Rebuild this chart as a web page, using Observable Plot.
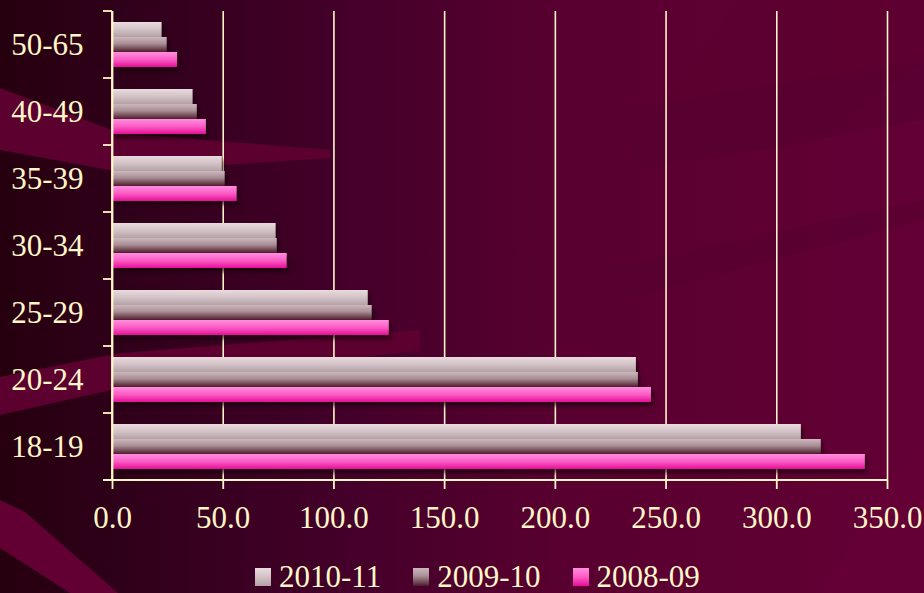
<!DOCTYPE html>
<html><head><meta charset="utf-8">
<script src="https://cdn.jsdelivr.net/npm/d3@7"></script>
<script src="https://cdn.jsdelivr.net/npm/@observablehq/plot@0.6"></script>
<style>
html,body{margin:0;padding:0;}
body{width:924px;height:593px;overflow:hidden;position:relative;font-family:"Liberation Serif","Times New Roman",serif;
  background-color:#40001f;}
#chart{position:absolute;left:0;top:0;}
#defs{position:absolute;width:0;height:0;overflow:hidden;}
g[aria-label="bar"]{filter:drop-shadow(2px 4px 2px rgba(20,0,8,0.65));}
#legend{position:absolute;left:255px;top:562px;display:flex;align-items:center;color:#fff8c8;font-size:31px;line-height:30px;}
.item{display:flex;align-items:center;margin-right:32px;}
.sw{width:16px;height:18px;margin-right:8px;}
</style></head>
<body>
<svg id="defs" width="0" height="0">
  <defs>
    <linearGradient id="g0" x1="0" y1="0" x2="0" y2="1">
      <stop offset="0" stop-color="#eadbde"/><stop offset="0.5" stop-color="#d2c2c6"/><stop offset="1" stop-color="#b3a1a6"/>
    </linearGradient>
    <linearGradient id="g1" x1="0" y1="0" x2="0" y2="1">
      <stop offset="0" stop-color="#cdb7bc"/><stop offset="0.45" stop-color="#a88e95"/><stop offset="1" stop-color="#4e1c2c"/>
    </linearGradient>
    <linearGradient id="g2" x1="0" y1="0" x2="0" y2="1">
      <stop offset="0" stop-color="#ff8ee0"/><stop offset="0.5" stop-color="#fb5cc4"/><stop offset="1" stop-color="#e60e98"/>
    </linearGradient>
  </defs>
</svg>
<div id="chart"></div>
<div id="legend"></div>
<script>
// ---- data ----
const ageGroups = ["50-65", "40-49", "35-39", "30-34", "25-29", "20-24", "18-19"];
const seriesNames = ["2010-11", "2009-10", "2008-09"];
const values2010_11 = [22.4, 36.4, 49.6, 73.9, 115.5, 236.6, 311.1];
const values2009_10 = [24.7, 38.3, 50.9, 74.4, 117.3, 237.5, 320.1];
const values2008_09 = [29.4, 42.4, 56.3, 78.9, 125.0, 243.4, 340.0];
const xTicks = [0, 50, 100, 150, 200, 250, 300, 350];

const seriesValues = [values2010_11, values2009_10, values2008_09];
const gradientIds = ["url(#g0)", "url(#g1)", "url(#g2)"];
const cssGradients = [
  "linear-gradient(#eadbde,#d2c2c6,#b3a1a6)",
  "linear-gradient(#cdb7bc,#a88e95 45%,#4e1c2c)",
  "linear-gradient(#ff8ee0,#fb5cc4,#e60e98)"
];
const rows = ageGroups.flatMap((age, i) =>
  seriesNames.map((s, j) => ({age, series: s, value: seriesValues[j][i]})));

const cream = "#fff6c8";

// ---- background decoration ----
const bgSvg = `<svg xmlns='http://www.w3.org/2000/svg' width='924' height='593'>
<polygon points='0,88 120,133 330,150 330,158 120,172 0,150' fill='#5c002f'/>
<polygon points='0,377 120,353 420,330 420,350 120,388 0,415' fill='#5c002f'/>
<polygon points='0,500 25,512 118,593 70,593 0,548' fill='#620033'/>
<polygon points='740,0 924,0 924,60 820,140 700,160 650,120' fill='#5a002f' opacity='0.6'/>
<polygon points='620,110 924,60 924,120 640,170' fill='#570030' opacity='0.6'/>
<polygon points='600,270 924,200 924,220 620,300' fill='#560030' opacity='0.5'/>
<polygon points='820,593 900,470 924,440 924,593' fill='#660038' opacity='0.7'/>
</svg>`;
document.body.style.background =
  `url("data:image/svg+xml,${encodeURIComponent(bgSvg)}") no-repeat, ` +
  `linear-gradient(90deg, #26000f 0%, #30001a 14%, #44002a 38%, #58002f 60%, #630035 100%)`;

// ---- chart ----
const plot = Plot.plot({
  width: 924,
  height: 545,
  marginTop: 9,
  marginBottom: 64,
  marginLeft: 112,
  marginRight: 37,
  style: {background: "transparent", color: cream, fontFamily: "'Liberation Serif','Times New Roman',serif", fontSize: "31px", overflow: "visible"},
  x: {domain: [0, 350]},
  y: {domain: seriesNames, paddingInner: 0, paddingOuter: 0.73, axis: null},
  fy: {domain: ageGroups, padding: 0},
  color: {type: "ordinal", domain: seriesNames, range: gradientIds},
  marks: [
    Plot.gridX(xTicks.filter(d => d > 0), {stroke: cream, strokeOpacity: 1, strokeWidth: 1.6}),
    Plot.barX(rows, {x: "value", y: "series", fy: "age", fill: "series"}),
    Plot.ruleX([0], {stroke: cream, strokeWidth: 1.8}),
    Plot.axisX({ticks: xTicks, tickFormat: d => d.toFixed(1), tickSize: 9, tickPadding: 16,
      fontSize: 31, stroke: cream, strokeWidth: 1.8, label: null}),
    Plot.axisFy({anchor: "left", tickSize: 0, tickPadding: 29, fontSize: 31, label: null})
  ]
});
document.getElementById("chart").appendChild(plot);

// axis line and category boundary ticks, positioned via Plot's own scales
const sx = plot.scale("x");
const sfy = plot.scale("fy");
const x0 = sx.apply(0), xMax = sx.apply(350);
const bounds = ageGroups.map(d => sfy.apply(d));
bounds.push(bounds[bounds.length - 1] + sfy.bandwidth);
const g = d3.select(plot).append("g").attr("stroke", cream).attr("stroke-width", 1.8);
g.append("line").attr("x1", x0 - 9).attr("x2", xMax).attr("y1", bounds[bounds.length - 1]).attr("y2", bounds[bounds.length - 1]);
g.append("line").attr("x1", x0).attr("x2", x0).attr("y1", bounds[0]).attr("y2", bounds[bounds.length - 1]);
g.selectAll("line.tk").data(bounds).join("line").attr("class", "tk")
  .attr("x1", x0 - 9).attr("x2", x0).attr("y1", d => d).attr("y2", d => d);

// ---- legend ----
const legend = d3.select("#legend");
seriesNames.forEach((s, i) => {
  const item = legend.append("div").attr("class", "item");
  item.append("div").attr("class", "sw").style("background", cssGradients[i]);
  item.append("span").text(s);
});
</script>
</body></html>
